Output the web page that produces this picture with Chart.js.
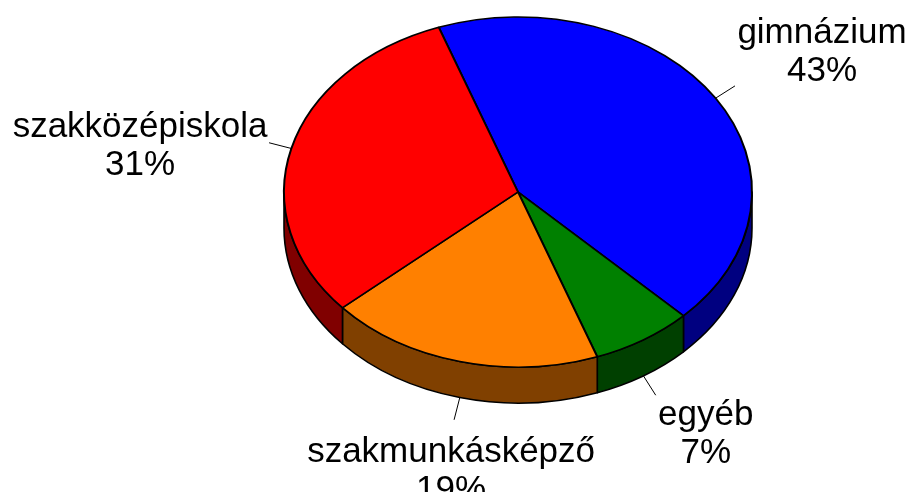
<!DOCTYPE html>
<html><head><meta charset="utf-8">
<script src="https://cdn.jsdelivr.net/npm/chart.js@4"></script>
<style>html,body{margin:0;padding:0;background:#fff}#wrap{width:909px;height:492px;position:relative}</style>
</head><body><div id="wrap"><canvas id="c" width="909" height="492"></canvas></div>
<script>
// ---- data ----
const categories = ['gimnázium', 'egyéb', 'szakmunkásképző', 'szakközépiskola'];
const shares = [43, 7, 19, 31];
const percentLabels = ['43%', '7%', '19%', '31%'];
const topColors = ['#0000FF', '#008000', '#FF8000', '#FF0000'];
const sideColors = ['#000080', '#004000', '#804000', '#800000'];

// ---- layout ----
const CENTER_Y = 192;   // screen y of the top face centre
const TILT = 0.748;     // vertical squash of the top face
const DEPTH = 36;       // thickness of the pie
const LEADER = 23;      // leader line length
const LINE_GAP = 38;
const labelOffsets = [[87, -43], [50, 30], [-3, 42], [-129, -6]];
const FONT = '35px "Liberation Sans", Arial, sans-serif';

const pie3d = {
  id: 'pie3d',
  beforeDatasetsDraw(chart) {
    const ctx = chart.ctx;
    const arcs = chart.getDatasetMeta(0).data;
    const a0 = arcs[0];
    const cx = a0.x, r = a0.outerRadius, ry = r * TILT;
    ctx.save();
    ctx.lineWidth = 1.6;
    ctx.strokeStyle = '#000';
    ctx.lineJoin = 'round';
    arcs.forEach((arc, i) => {
      const s = arc.startAngle, e = arc.endAngle;
      for (const k of [-2, 0, 2, 4]) {
        const lo = k * Math.PI, hi = lo + Math.PI;
        const a = Math.max(s, lo), b = Math.min(e, hi);
        if (b > a) {
          const aa = a - lo, bb = b - lo;
          ctx.beginPath();
          ctx.ellipse(cx, CENTER_Y, r, ry, 0, aa, bb, false);
          ctx.ellipse(cx, CENTER_Y + DEPTH, r, ry, 0, bb, aa, true);
          ctx.closePath();
          ctx.fillStyle = sideColors[i];
          ctx.fill();
          ctx.stroke();
        }
      }
    });
    ctx.restore();
    ctx.save();
    ctx.translate(0, CENTER_Y);
    ctx.scale(1, TILT);
    ctx.translate(0, -a0.y);
  },
  afterDatasetsDraw(chart) {
    const ctx = chart.ctx;
    ctx.restore();
    const arcs = chart.getDatasetMeta(0).data;
    const a0 = arcs[0];
    const cx = a0.x, r = a0.outerRadius, ry = r * TILT;
    ctx.save();
    ctx.font = FONT;
    ctx.textAlign = 'center';
    ctx.textBaseline = 'alphabetic';
    arcs.forEach((arc, i) => {
      const mid = (arc.startAngle + arc.endAngle) / 2;
      const c = Math.cos(mid), sn = Math.sin(mid);
      const px = cx + r * c;
      const py = CENTER_Y + ry * sn + (sn > 0 ? DEPTH : 0);
      const ex = px + LEADER * c, ey = py + LEADER * sn;
      ctx.beginPath();
      ctx.moveTo(px, py);
      ctx.lineTo(ex, ey);
      ctx.strokeStyle = '#000';
      ctx.lineWidth = 1;
      ctx.stroke();
      const tx = ex + labelOffsets[i][0], ty = ey + labelOffsets[i][1];
      ctx.fillStyle = '#000';
      ctx.fillText(categories[i], tx, ty);
      ctx.fillText(percentLabels[i], tx, ty + LINE_GAP);
    });
    ctx.restore();
  }
};

new Chart(document.getElementById('c'), {
  type: 'pie',
  data: {
    labels: categories,
    datasets: [{
      data: shares,
      backgroundColor: topColors,
      borderColor: '#000',
      borderWidth: 2,
      radius: 234,
      clip: false
    }]
  },
  options: {
    responsive: false,
    animation: false,
    rotation: -19.8,
    layout: { padding: { left: 200, right: 73, top: 0, bottom: 0 } },
    plugins: { legend: { display: false }, tooltip: { enabled: false } },
    events: []
  },
  plugins: [pie3d]
});
</script>
</body></html>
